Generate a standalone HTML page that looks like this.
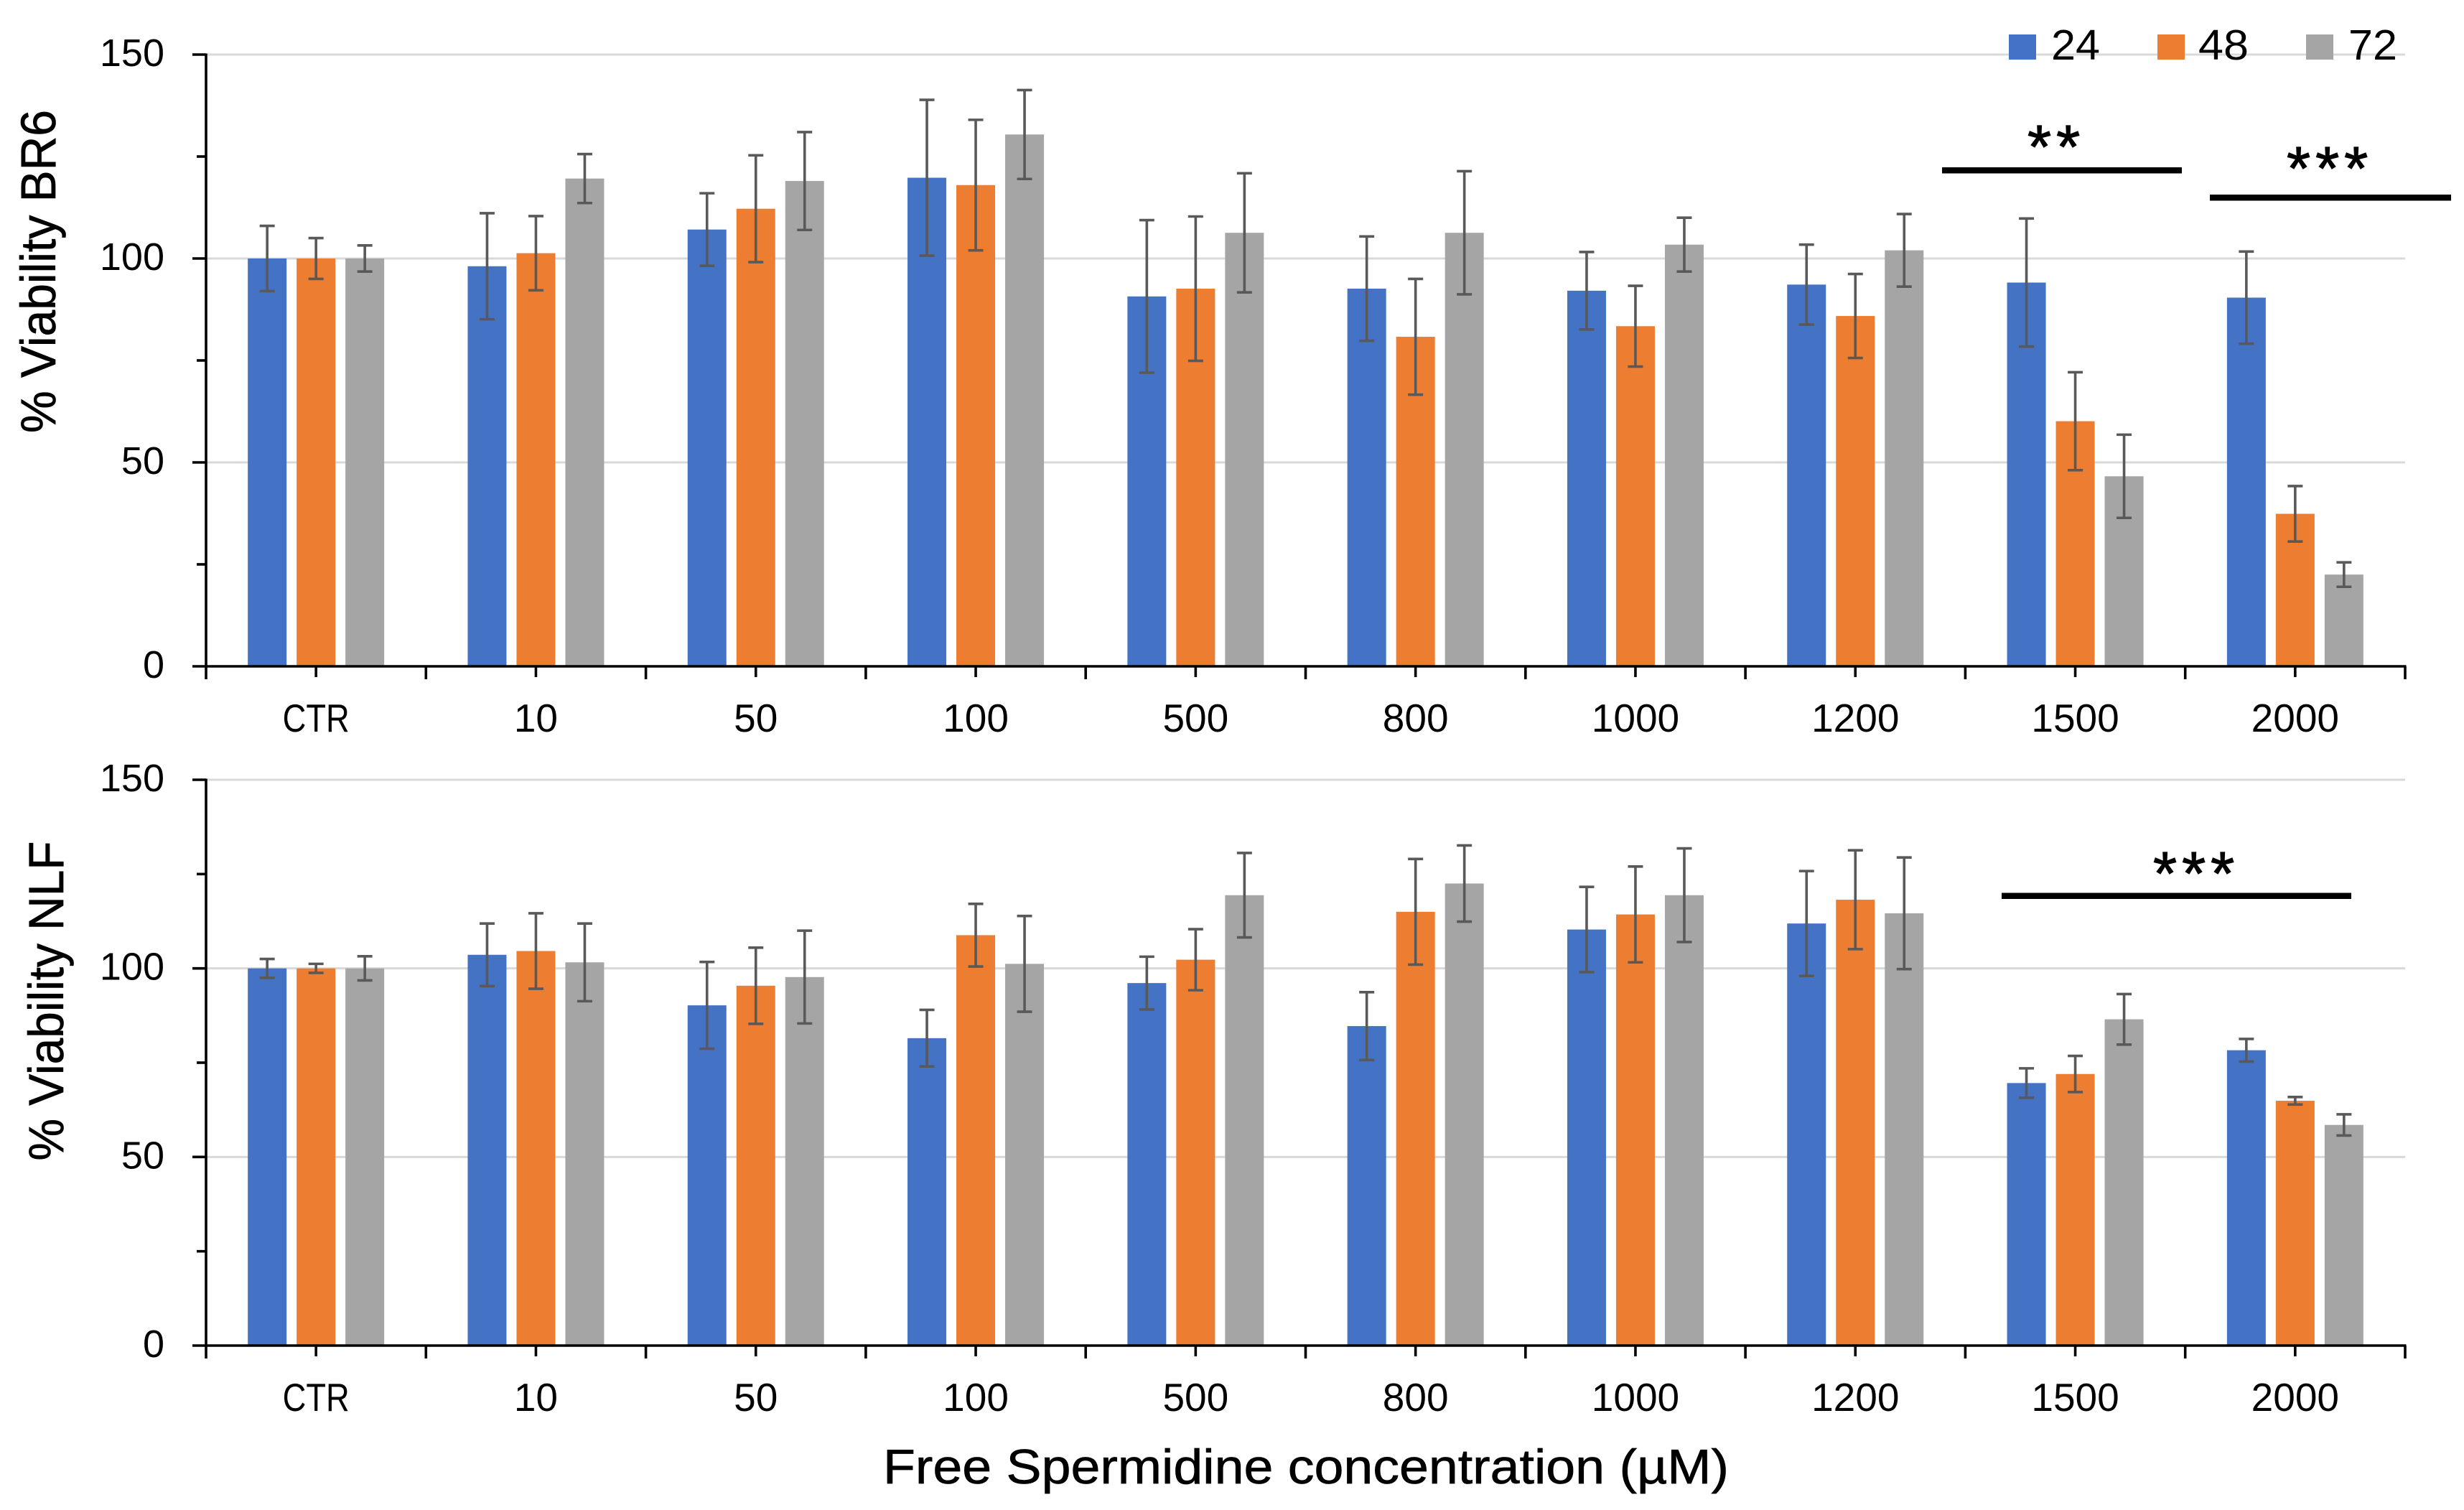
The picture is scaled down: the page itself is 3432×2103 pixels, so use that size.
<!DOCTYPE html>
<html lang="en">
<head>
<meta charset="utf-8">
<title>Viability of BR6 and NLF cells versus free spermidine concentration</title>
<style>
  html, body { margin: 0; padding: 0; background: #ffffff; }
  svg { display: block; font-family: "Liberation Sans", sans-serif; }
  .title { stroke: #000; stroke-width: 0.7px; }
  .stars { stroke: #000; stroke-width: 1.2px; }
</style>
</head>
<body>
<svg id="chart" xmlns="http://www.w3.org/2000/svg" width="3432" height="2103" viewBox="0 0 3432 2103">
  <rect x="0" y="0" width="3432" height="2103" fill="#ffffff"/>
  <g id="panel-top"></g>
  <g id="panel-bottom"></g>

  <text class="title" transform="translate(77 378) rotate(-90)" text-anchor="middle" font-size="69" textLength="450" lengthAdjust="spacingAndGlyphs" fill="#000">% Viability BR6</text>
  <text class="title" transform="translate(88 1394) rotate(-90)" text-anchor="middle" font-size="69" textLength="445" lengthAdjust="spacingAndGlyphs" fill="#000">% Viability NLF</text>
  <text class="title" x="1230" y="2066" font-size="68" textLength="1178" lengthAdjust="spacingAndGlyphs" fill="#000">Free Spermidine concentration (µM)</text>

  <g>
    <g>
      <rect x="2798" y="48" width="38" height="35" fill="#4472C4"/>
      <text x="2857" y="83" font-size="59" textLength="68" lengthAdjust="spacingAndGlyphs" fill="#000">24</text>
    </g>
    <g>
      <rect x="3005" y="48" width="38" height="35" fill="#ED7D31"/>
      <text x="3062" y="83" font-size="59" textLength="70" lengthAdjust="spacingAndGlyphs" fill="#000">48</text>
    </g>
    <g>
      <rect x="3212" y="48" width="38" height="35" fill="#A5A5A5"/>
      <text x="3271" y="83" font-size="59" textLength="68" lengthAdjust="spacingAndGlyphs" fill="#000">72</text>
    </g>
  </g>

  <g>
    <rect x="2705" y="233" width="334" height="8.5" fill="#000"/>
    <text class="stars" x="2824" y="234" font-size="85" letter-spacing="7" fill="#000">**</text>
    <rect x="3078" y="271" width="336" height="8.5" fill="#000"/>
    <text class="stars" x="3185" y="264" font-size="85" letter-spacing="7" fill="#000">***</text>
    <rect x="2788" y="1243.5" width="487" height="8.5" fill="#000"/>
    <text class="stars" x="2999" y="1246" font-size="85" letter-spacing="7" fill="#000">***</text>
  </g>
</svg>

<script>
// Shared categories and tick labels
const categories = ["CTR", "10", "50", "100", "500", "800", "1000", "1200", "1500", "2000"];
const yTickValues = [0, 25, 50, 75, 100, 125, 150];
const yTickLabels = [0, 50, 100, 150];
const seriesNames = ["24", "48", "72"];

// BR6 panel: means
const br6Mean24 = [100, 98.1, 107.1, 119.8, 90.7, 92.6, 92.1, 93.6, 94.1, 90.4];
const br6Mean48 = [100, 101.3, 112.2, 118, 92.6, 80.8, 83.4, 85.9, 60.1, 37.4];
const br6Mean72 = [100, 119.6, 119, 130.4, 106.3, 106.3, 103.4, 102, 46.6, 22.5];
// BR6 panel: error half-widths
const br6Err24 = [8, 13, 8.9, 19.1, 18.7, 12.8, 9.5, 9.8, 15.7, 11.3];
const br6Err48 = [5, 9.1, 13.1, 16, 17.7, 14.2, 9.9, 10.3, 12, 6.8];
const br6Err72 = [3.2, 6, 12, 10.9, 14.6, 15.1, 6.6, 8.9, 10.2, 3];

// NLF panel: means
const nlfMean24 = [100, 103.6, 90.2, 81.5, 96.1, 84.7, 110.3, 111.9, 69.6, 78.3];
const nlfMean48 = [100, 104.6, 95.4, 108.8, 102.3, 115, 114.3, 118.2, 72, 64.9];
const nlfMean72 = [100, 101.6, 97.7, 101.2, 119.4, 122.5, 119.4, 114.6, 86.5, 58.5];
// NLF panel: error half-widths
const nlfErr24 = [2.5, 8.3, 11.5, 7.5, 7, 9, 11.3, 13.9, 3.9, 3];
const nlfErr48 = [1.2, 10, 10.1, 8.3, 8.1, 14, 12.7, 13.1, 4.8, 1];
const nlfErr72 = [3.2, 10.3, 12.3, 12.7, 11.2, 10.1, 12.4, 14.8, 6.7, 2.8];

const SVG_NS = "http://www.w3.org/2000/svg";
const plotLeft = 287;
const plotRight = 3350;
const yMax = 150;
const barWidth = 54;
const barStep = 68;
const capWidth = 21;
const seriesColors = ["#4472C4", "#ED7D31", "#A5A5A5"];

function make(parent, tag, attrs) {
  const node = document.createElementNS(SVG_NS, tag);
  for (const key in attrs) node.setAttribute(key, attrs[key]);
  parent.appendChild(node);
  return node;
}

function xCenter(i) {
  return plotLeft + (plotRight - plotLeft) * (i + 0.5) / categories.length;
}

function xEdge(i) {
  return plotLeft + (plotRight - plotLeft) * i / categories.length;
}

function drawPanel(parent, prefix, yTop, yZero, labelBaseline, means, errs) {
  const yScale = function (v) {
    return yZero - (yZero - yTop) * v / yMax;
  };

  // Gridlines
  yTickLabels.forEach(function (v) {
    if (v === 0) return;
    const grid = make(parent, "line", { x1: plotLeft, x2: plotRight, y1: yScale(v), y2: yScale(v), stroke: "#D9D9D9", "stroke-width": 3 });
    
    
  });

  // Bars and error bars
  categories.forEach(function (cat, i) {
    means.forEach(function (series, s) {
      const cx = xCenter(i) + (s - 1) * barStep;
      const bar = make(parent, "rect", {
        x: cx - barWidth / 2,
        y: yScale(series[i]),
        width: barWidth,
        height: yZero - yScale(series[i]),
        fill: seriesColors[s]
      });
      
      

      const hi = yScale(series[i] + errs[s][i]);
      const lo = yScale(series[i] - errs[s][i]);
      const errGroup = make(parent, "g", { stroke: "#595959", "stroke-width": 3.6, fill: "none" });
      
      
      make(errGroup, "line", { x1: cx, x2: cx, y1: hi, y2: lo });
      make(errGroup, "line", { x1: cx - capWidth / 2, x2: cx + capWidth / 2, y1: hi, y2: hi });
      make(errGroup, "line", { x1: cx - capWidth / 2, x2: cx + capWidth / 2, y1: lo, y2: lo });
    });
  });

  // Y axis line
  const yAxis = make(parent, "line", { x1: plotLeft, x2: plotLeft, y1: yTop - 1.5, y2: yZero + 1.5, stroke: "#000", "stroke-width": 3.6 });
  
  

  // Y ticks
  yTickValues.forEach(function (v) {
    const len = yTickLabels.indexOf(v) >= 0 ? 19 : 13;
    const tick = make(parent, "line", { x1: plotLeft - len, x2: plotLeft, y1: yScale(v), y2: yScale(v), stroke: "#000", "stroke-width": 3.6 });
    
    
  });

  // Y tick labels
  yTickLabels.forEach(function (v) {
    const label = make(parent, "text", { x: 229, y: yScale(v) + 16, "text-anchor": "end", "font-size": 54, fill: "#000" });
    label.textContent = String(v);
    
    
  });

  // X axis line
  const xAxis = make(parent, "line", { x1: plotLeft, x2: plotRight + 1.5, y1: yZero, y2: yZero, stroke: "#000", "stroke-width": 3.6 });
  
  

  // X ticks at category edges
  for (let i = 0; i <= categories.length; i++) {
    const edgeTick = make(parent, "line", { x1: xEdge(i), x2: xEdge(i), y1: yZero, y2: yZero + 18, stroke: "#000", "stroke-width": 3.6 });
    
    
  }

  // X ticks and labels at category centres
  categories.forEach(function (cat, i) {
    const midTick = make(parent, "line", { x1: xCenter(i), x2: xCenter(i), y1: yZero, y2: yZero + 15, stroke: "#000", "stroke-width": 3.6 });
    
    

    const label = make(parent, "text", { x: xCenter(i), y: labelBaseline, "text-anchor": "middle", "font-size": 55, fill: "#000" });
    if (cat === "CTR") {
      label.setAttribute("textLength", "93");
      label.setAttribute("lengthAdjust", "spacingAndGlyphs");
    }
    label.textContent = cat;
    
    
  });
}

drawPanel(document.getElementById("panel-top"), "br6", 76, 928, 1019,
  [br6Mean24, br6Mean48, br6Mean72], [br6Err24, br6Err48, br6Err72]);
drawPanel(document.getElementById("panel-bottom"), "nlf", 1086, 1874, 1965,
  [nlfMean24, nlfMean48, nlfMean72], [nlfErr24, nlfErr48, nlfErr72]);
</script>
</body>
</html>
